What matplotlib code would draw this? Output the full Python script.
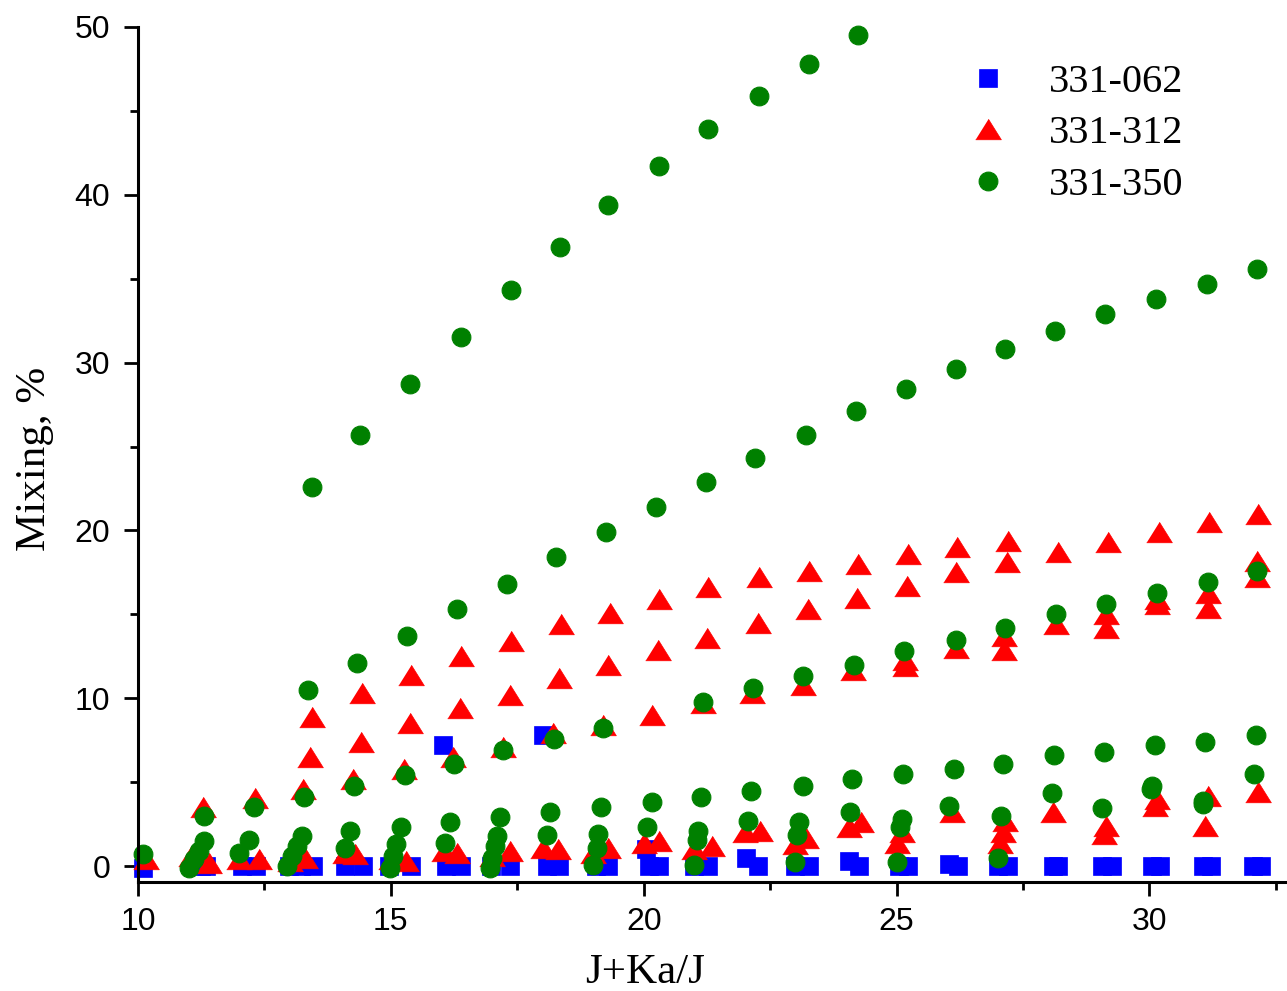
import matplotlib
matplotlib.use('Agg')
import matplotlib.pyplot as plt
from matplotlib.ticker import MultipleLocator

# 331-062 (squares), nearly all sit on zero
sq_x = [10.1, 11.25, 11.35, 12.05, 12.33, 12.98, 13.22, 13.46, 14.1, 14.45,
        14.96, 15.4, 16.03, 16.1, 16.38, 16.98, 17.35, 18.0, 18.08, 18.32,
        19.05, 19.3, 20.04, 20.1, 20.3, 21.0, 21.28, 22.03, 22.25, 23.0,
        23.26, 24.05, 24.25, 25.04, 25.22, 26.03, 26.22, 27.0, 27.2, 28.1,
        28.2, 29.07, 29.25, 30.05, 30.2, 31.05, 31.22, 32.05, 32.2]
sq_y = [-0.1, 0, 0, 0, 0, 0, 0, 0, 0, 0,
        0, 0, 7.2, 0, 0, 0, 0, 7.8, 0, 0,
        0, 0, 1.0, 0, 0, 0, 0, 0.5, 0, 0,
        0, 0.3, 0, 0, 0, 0.15, 0, 0, 0, 0,
        0, 0, 0, 0, 0, 0, 0, 0, 0]

# 331-312 (triangles)
triA_x = [13.44, 14.43, 15.4, 16.38, 17.37, 18.36, 19.33, 20.3, 21.28, 22.27,
          23.26, 24.23, 25.22, 26.2, 27.21, 28.2, 29.19, 30.18, 31.17, 32.15]
triA_y = [8.9, 10.3, 11.4, 12.5, 13.4, 14.4, 15.1, 15.9, 16.6, 17.2,
          17.6, 18.0, 18.6, 19.0, 19.4, 18.7, 19.3, 19.9, 20.5, 21.0]
triB_x = [13.4, 14.4, 15.38, 16.36, 17.35, 18.33, 19.3, 20.28, 21.26, 22.25,
          23.24, 24.21, 25.2, 26.18, 27.19]
triB_y = [6.5, 7.4, 8.5, 9.4, 10.2, 11.2, 12.0, 12.9, 13.6, 14.5,
          15.3, 16.0, 16.7, 17.5, 18.1]
triC_x = [11.28, 12.31, 13.26, 14.25, 15.26, 16.23, 17.21, 18.2, 19.2, 20.16,
          21.17, 22.15, 23.14, 24.14, 25.16, 25.16, 26.17, 27.13, 27.13, 28.16,
          29.15, 29.15, 30.14, 30.14, 31.15, 31.15, 32.13, 32.13]
triC_y = [3.5, 4.05, 4.6, 5.2, 5.8, 6.5, 7.1, 7.9, 8.4, 9.0,
          9.7, 10.3, 10.8, 11.7, 11.9, 12.3, 13.0, 12.9, 13.7, 14.4,
          14.2, 15.0, 15.6, 15.9, 15.4, 16.3, 17.2, 18.2]
triD_x = [10.16, 11.05, 11.15, 11.4, 12.0, 12.4, 13.0, 13.3, 14.1, 14.3,
          15.0, 15.3, 16.05, 16.3, 17.0, 17.35, 18.0, 18.3, 19.0, 19.3,
          20.0, 20.3, 21.0, 21.35, 22.0, 22.3, 23.0, 23.2, 24.05, 24.3,
          25.0, 25.1, 26.1, 27.05, 27.1, 27.15, 28.1, 29.1, 29.15, 30.1,
          30.15, 31.1, 31.15, 32.15]
triD_y = [0.4, 0.6, 0.9, 0.2, 0.4, 0.4, 0.3, 0.5, 0.8, 0.7,
          0.4, 0.3, 0.9, 0.8, 0.6, 0.9, 1.1, 1.0, 0.8, 1.1,
          1.4, 1.5, 1.0, 1.2, 2.0, 2.1, 1.3, 1.7, 2.3, 2.6,
          1.4, 2.0, 3.2, 1.4, 2.0, 2.7, 3.2, 1.9, 2.4, 3.6,
          4.0, 2.4, 4.2, 4.4]

# 331-350 (circles)
dotA_x = [13.44, 14.39, 15.38, 16.38, 17.37, 18.34, 19.29, 20.3, 21.28, 22.27,
          23.26, 24.23]
dotA_y = [22.6, 25.7, 28.7, 31.5, 34.3, 36.9, 39.4, 41.7, 43.9, 45.9,
          47.8, 49.5]
dotB_x = [13.36, 14.33, 15.32, 16.3, 17.29, 18.26, 19.25, 20.24, 21.23, 22.21,
          23.2, 24.19, 25.18, 26.17, 27.15, 28.14, 29.13, 30.12, 31.13, 32.13]
dotB_y = [10.5, 12.1, 13.7, 15.3, 16.8, 18.4, 19.9, 21.4, 22.9, 24.3,
          25.7, 27.1, 28.4, 29.6, 30.8, 31.9, 32.9, 33.8, 34.7, 35.6]
dotC_x = [11.3, 12.3, 13.28, 14.27, 15.27, 16.25, 17.22, 18.22, 19.2, 21.18,
          22.16, 23.15, 24.15, 25.15, 26.17, 27.15, 28.15, 29.15, 30.15, 31.15,
          32.13]
dotC_y = [3.0, 3.5, 4.1, 4.8, 5.4, 6.1, 6.9, 7.6, 8.2, 9.8,
          10.6, 11.3, 12.0, 12.8, 13.5, 14.2, 15.0, 15.6, 16.3, 16.9,
          17.6]
dotD_x = [11.3, 12.2, 13.25, 14.2, 15.2, 16.17, 17.15, 18.15, 19.15, 20.16,
          21.14, 22.13, 23.14, 24.11, 25.12, 26.13, 27.1, 28.12, 29.11, 30.1,
          31.1, 32.1]
dotD_y = [1.5, 1.55, 1.8, 2.1, 2.3, 2.6, 2.9, 3.2, 3.5, 3.8,
          4.1, 4.5, 4.8, 5.2, 5.5, 5.8, 6.1, 6.6, 6.8, 7.2,
          7.4, 7.8]
dotE_x = [10.1, 11.2, 12.0, 13.15, 14.1, 15.1, 16.07, 17.1, 18.08, 19.1,
          20.06, 21.07, 22.07, 23.08, 24.07, 25.1, 26.03, 27.07, 28.08, 29.06,
          30.04, 30.06, 31.05, 31.05, 32.07, 25.06, 23.04, 21.05, 19.07, 17.05]
dotE_y = [0.7, 0.9, 0.8, 1.2, 1.1, 1.3, 1.4, 1.8, 1.85, 1.9,
          2.3, 2.1, 2.7, 2.6, 3.2, 2.8, 3.6, 3.0, 4.35, 3.45,
          4.6, 4.8, 3.9, 3.7, 5.5, 2.3, 1.85, 1.55, 1.1, 1.2]
dotF_x = [11.0, 11.1, 12.95, 13.05, 14.98, 15.05, 16.96, 17.0, 19.0, 21.0,
          23.0, 25.0, 27.0]
dotF_y = [-0.1, 0.4, 0.0, 0.6, -0.1, 0.6, -0.1, 0.5, 0.05, 0.05,
          0.25, 0.25, 0.5]

blue = '#0000ff'
red = '#ff0000'
green = '#008000'
tri = [(-1.0, -0.8), (1.0, -0.8), (0.0, 0.8)]

plt.rcParams['font.family'] = 'Liberation Sans'

fig = plt.figure(figsize=(12.87, 9.91), dpi=100)
ax = fig.add_axes([138 / 1287, 1 - 882 / 991, 1 - 138 / 1287, 855 / 991])

ax.plot(sq_x, sq_y, ls='none', marker='s', ms=12.5, mfc=blue, mec=blue,
        mew=0.5, clip_on=False, label='331-062')
ax.plot(triA_x + triB_x + triC_x + triD_x, triA_y + triB_y + triC_y + triD_y,
        ls='none', marker=tri, ms=18.5, mfc=red, mec=red, mew=0.5,
        clip_on=False, label='331-312')
ax.plot(dotA_x + dotB_x + dotC_x + dotD_x + dotE_x + dotF_x,
        dotA_y + dotB_y + dotC_y + dotD_y + dotE_y + dotF_y,
        ls='none', marker='o', ms=13.5, mfc=green, mec=green, mew=0.8,
        clip_on=False, label='331-350')

ax.set_xlim(10, 32.72)
ax.set_ylim(-0.95, 50)
ax.xaxis.set_major_locator(MultipleLocator(5))
ax.xaxis.set_minor_locator(MultipleLocator(2.5))
ax.yaxis.set_major_locator(MultipleLocator(10))
ax.yaxis.set_minor_locator(MultipleLocator(5))

for s in ['top', 'right']:
    ax.spines[s].set_visible(False)
for s in ['left', 'bottom']:
    ax.spines[s].set_linewidth(2.2)

ax.tick_params(which='major', direction='out', length=10, width=2, pad=8,
               labelsize=23)
ax.tick_params(which='minor', direction='out', length=6, width=2)
ax.tick_params(axis='y', which='major', pad=10)

fig.text(645 / 1287, 1 - 973 / 991, 'J+Ka/J', family='Liberation Serif',
         fontsize=31, ha='center', va='center')
fig.text(35 / 1287, 1 - 459 / 991, 'Mixing, %', family='Liberation Serif',
         fontsize=31, ha='center', va='center', rotation=90)

ax.legend(loc='upper left', bbox_to_anchor=(968 / 1287, 1 - 64 / 991),
          bbox_transform=fig.transFigure, frameon=False,
          prop={'family': 'Liberation Serif', 'size': 29},
          handlelength=1.0, handletextpad=1.0, borderpad=0, borderaxespad=0,
          labelspacing=0.35, numpoints=1)

fig.savefig('out.png', dpi=100)
